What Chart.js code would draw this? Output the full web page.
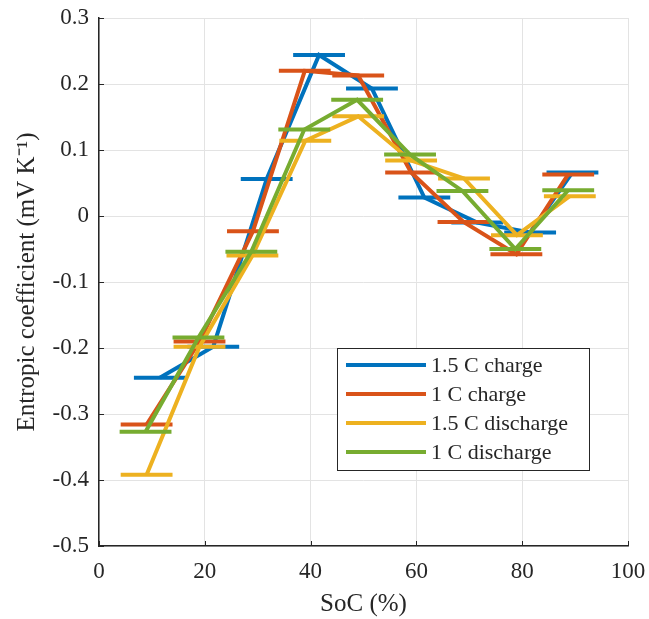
<!DOCTYPE html>
<html><head><meta charset="utf-8">
<script src="https://cdn.jsdelivr.net/npm/chart.js@4.4.0/dist/chart.umd.min.js"></script>
<style>html,body{margin:0;padding:0;background:#fff}canvas{display:block}</style>
</head><body>
<canvas id="c" width="649" height="619"></canvas>
<script>
// ===== Data (SoC in %, entropic coefficient in mV/K) =====
const soc15c=[11.5,21.6,31.7,41.6,51.6,61.5,71.5,81.5,89.5];
const ent15c=[-0.245,-0.198,0.056,0.244,0.193,0.028,-0.010,-0.025,0.066];
const soc1c=[9.0,19.0,29.1,38.9,49.0,59.0,68.9,78.9,88.7];
const ent1c=[-0.316,-0.190,-0.023,0.220,0.213,0.066,-0.009,-0.058,0.063];
const soc15d=[9.0,19.0,29.0,39.0,49.0,59.0,69.0,79.0,89.0];
const ent15d=[-0.392,-0.198,-0.060,0.114,0.151,0.084,0.057,-0.029,0.030];
const soc1d=[8.8,18.8,28.8,38.8,48.8,58.8,68.7,78.7,88.7];
const ent1d=[-0.327,-0.184,-0.054,0.131,0.176,0.093,0.038,-0.050,0.039];
const socErr=4.9; // half width of the horizontal bars
const labels=['1.5 C charge','1 C charge','1.5 C discharge','1 C discharge'];
const colors=['#0072BD','#D95319','#EDB120','#77AC30'];
const yTicks=[-0.5,-0.4,-0.3,-0.2,-0.1,0,0.1,0.2,0.3];

const FONT="'Liberation Serif','Times New Roman',serif";

function series(i,xs,ys){
  const order=10-i; // later series on top, like matlab
  const line={label:labels[i],data:xs.map((x,k)=>({x,y:ys[k]})),borderColor:colors[i],
    borderWidth:4,pointRadius:0,showLine:true,fill:false,tension:0,order};
  const bars={label:labels[i]+' bars',data:xs.flatMap((x,k)=>[{x:x-socErr,y:ys[k]},{x:x+socErr,y:ys[k]},{x:x,y:null}]),
    borderColor:colors[i],borderWidth:4,borderCapStyle:'butt',pointRadius:0,showLine:true,spanGaps:false,fill:false,order};
  return [line,bars];
}

const legendBox={
  id:'legendBox',
  afterDraw(chart){
    const {ctx,chartArea:a,scales:{x,y}}=chart;
    ctx.save();
    // inward ticks
    ctx.strokeStyle='#262626';ctx.lineWidth=1;
    ctx.beginPath();
    x.ticks.forEach(t=>{const p=Math.round(x.getPixelForValue(t.value))+0.5;ctx.moveTo(p,a.bottom);ctx.lineTo(p,a.bottom-5);});
    y.ticks.forEach(t=>{const p=Math.round(y.getPixelForValue(t.value))+0.5;ctx.moveTo(a.left,p);ctx.lineTo(a.left+5,p);});
    ctx.stroke();
    // legend
    const L=337,T=348,W=252,H=122;
    ctx.fillStyle='#fff';ctx.fillRect(L,T,W,H);
    ctx.strokeStyle='#262626';ctx.lineWidth=1;ctx.strokeRect(L+0.5,T+0.5,W,H);
    ctx.font='22px '+FONT;ctx.textBaseline='middle';
    labels.forEach((lab,i)=>{
      const yy=T+17+i*29;
      ctx.strokeStyle=colors[i];ctx.lineWidth=4;
      ctx.beginPath();ctx.moveTo(346,yy);ctx.lineTo(426,yy);ctx.stroke();
      ctx.fillStyle='#262626';ctx.fillText(lab,431,yy+1);
    });
    ctx.restore();
  }
};

new Chart(document.getElementById('c'),{
  type:'scatter',
  data:{datasets:[...series(0,soc15c,ent15c),...series(1,soc1c,ent1c),...series(2,soc15d,ent15d),...series(3,soc1d,ent1d)]},
  options:{
    responsive:false,animation:false,
    layout:{padding:{top:18,right:21,left:0,bottom:0}},
    plugins:{legend:{display:false},tooltip:{enabled:false}},
    scales:{
      x:{type:'linear',min:0,max:100,
        afterFit:s=>{s.height=73;s.paddingLeft=0;s.paddingRight=0;},
        ticks:{stepSize:20,color:'#262626',font:{family:FONT,size:23},padding:12},
        grid:{color:'#e3e3e3',drawTicks:false},
        border:{color:'#262626',width:1.5},
        title:{display:true,text:'SoC (%)',color:'#262626',font:{family:FONT,size:25},padding:{top:0,bottom:0}}},
      y:{type:'linear',min:-0.5,max:0.3,
        afterFit:s=>{s.width=99;s.paddingTop=0;s.paddingBottom=0;},
        afterBuildTicks:s=>{s.ticks=yTicks.map(v=>({value:v}));},
        ticks:{color:'#262626',font:{family:FONT,size:23},padding:10,
          callback:v=>String(Math.round(v*10)/10)},
        grid:{color:'#e3e3e3',drawTicks:false},
        border:{color:'#262626',width:1.5},
        title:{display:true,text:'Entropic coefficient (mV K⁻¹)',color:'#262626',font:{family:FONT,size:25},padding:{top:12,bottom:0}}}
    }
  },
  plugins:[legendBox]
});
</script></body></html>
